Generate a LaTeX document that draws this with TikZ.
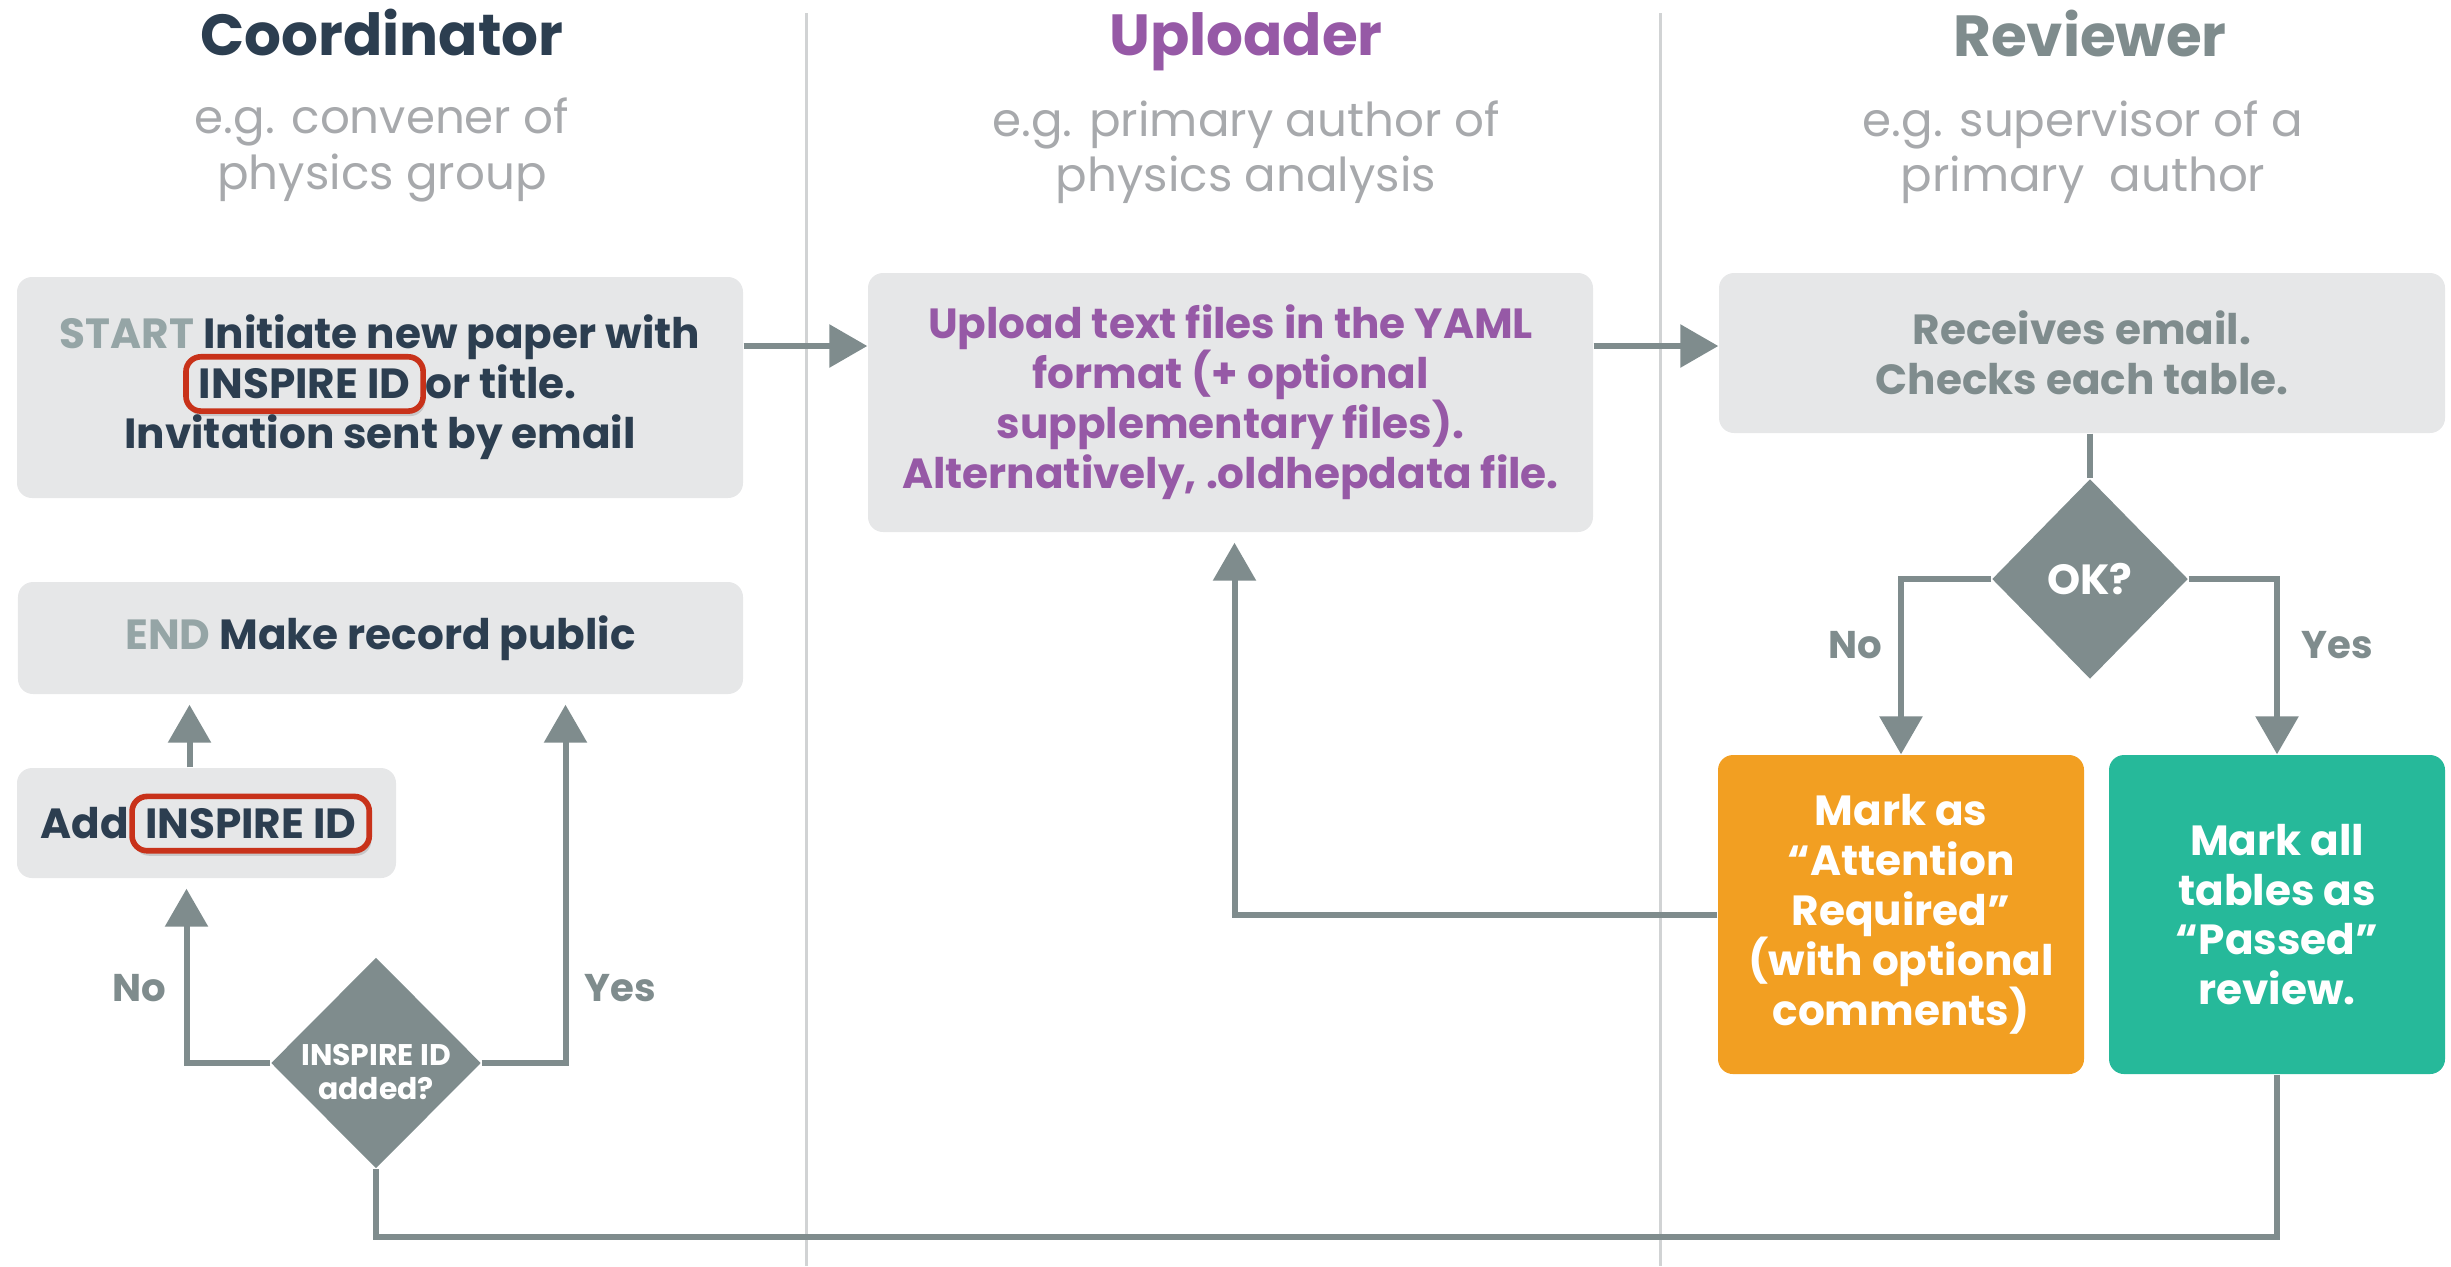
\documentclass[tikz,border=0pt]{standalone}
\usepackage{fontspec}
\setmainfont{Poppins}
\usetikzlibrary{arrows.meta,shapes.geometric,shadows}

\definecolor{navy}{HTML}{2C3E50}
\definecolor{plum}{HTML}{9659A6}
\definecolor{slate}{HTML}{7F8C8D}
\definecolor{ash}{HTML}{95A5A6}
\definecolor{subgray}{HTML}{A7A9AC}
\definecolor{boxgray}{HTML}{E6E7E8}
\definecolor{rulegray}{HTML}{D1D3D4}
\definecolor{idred}{HTML}{C8321A}
\definecolor{attnorange}{HTML}{F29F22}
\definecolor{passgreen}{HTML}{26B99A}

\newcommand{\idmark}[1]{\smash{\tikz[baseline=(m.base)]\node[idbox](m){#1};}}

\begin{document}
\begin{tikzpicture}[
  title/.style={font=\fontsize{16.5}{20}\selectfont\bfseries, anchor=base},
  sub/.style={font=\fontsize{13.3}{15.8}\selectfont, text=subgray, align=center},
  box/.style={fill=boxgray, rounded corners=0.15cm, align=center, inner sep=0pt,
    font=\fontsize{12}{14.2}\selectfont\bfseries},
  idbox/.style={draw=idred, line width=1.6pt, rounded corners=0.15cm, fill=boxgray,
    inner xsep=0.13cm, inner ysep=0.12cm, minimum width=0pt, minimum height=0pt,
    drop shadow={opacity=0.3, shadow xshift=0.02cm, shadow yshift=-0.05cm}},
  ask/.style={diamond, fill=slate, inner sep=0pt, text=white, align=center},
  arr/.style={slate, line width=0.06cm, -{Triangle[length=0.38cm,width=0.42cm]}},
  gap/.style={shorten >=0.1cm},
  wire/.style={slate, line width=0.06cm},
  lbl/.style={text=slate, font=\fontsize{11}{13}\selectfont\bfseries},
  divider/.style={rulegray, line width=0.03cm},
]
\useasboundingbox (0,0) rectangle (24.51,-12.66);
%\draw[gray, help lines] (0,0) grid (24,-12);

% lanes
\draw[divider] (8.06,-0.13) -- (8.06,-12.66);
\draw[divider] (16.60,-0.13) -- (16.60,-12.66);

\node[title, text=navy] (coordt) at (3.82,-0.55) {Coordinator};
\node[title, text=plum] (uplt) at (12.46,-0.55) {Uploader};
\node[title, text=slate] (revt) at (20.90,-0.56) {Reviewer};
\node[sub] (coords) at (3.82,-1.50) {e.g. convener of\\physics group};
\node[sub] (upls) at (12.46,-1.52) {e.g. primary author of\\physics analysis};
\node[sub] (revs) at (20.83,-1.52) {e.g. supervisor of a\\primary\ \ author};

% steps
\node[box, text=navy, minimum width=7.26cm, minimum height=2.21cm] (start) at (3.80,-3.875)
  {\textcolor{ash}{START} Initiate new paper with\\\idmark{INSPIRE ID}or title.\\Invitation sent by email};
\node[box, text=plum, minimum width=7.25cm, minimum height=2.59cm] (upload) at (12.305,-4.025)
  {Upload text files in the YAML\\format (+ optional\\supplementary files).\\Alternatively, .oldhepdata file.};
\node[box, text=slate, minimum width=7.26cm, minimum height=1.60cm] (review) at (20.82,-3.53)
  {Receives email.\\Checks each table.};
\node[box, text=navy, minimum width=7.25cm, minimum height=1.12cm] (finish) at (3.805,-6.38)
  {\textcolor{ash}{END} Make record public};
\node[box, text=navy, minimum width=3.79cm, minimum height=1.10cm] (addid) at (2.065,-8.23)
  {Add\idmark{INSPIRE ID}};
\node[box, fill=attnorange, text=white, minimum width=3.66cm, minimum height=3.19cm] (attn) at (19.01,-9.145)
  {Mark as\\“Attention\\Required”\\(with optional\\comments)};
\node[box, fill=passgreen, text=white, minimum width=3.36cm, minimum height=3.19cm] (passed) at (22.77,-9.145)
  {Mark all\\tables as\\“Passed”\\review.};

% decisions
\node[ask, minimum width=1.96cm, minimum height=2.0cm, font=\fontsize{12}{14}\selectfont\bfseries] (ok) at (20.90,-5.79) {OK?};
\node[ask, minimum width=2.10cm, minimum height=2.11cm,
  label={[text=white, align=center, yshift=-0.09cm, font=\fontsize{8.5}{9.7}\selectfont\bfseries]center:{INSPIRE ID\\added?}}] (added) at (3.76,-10.63) {};

\node[lbl] (no1) at (18.55,-6.45) {No};
\node[lbl] (yes1) at (23.37,-6.45) {Yes};
\node[lbl] (no2) at (1.39,-9.88) {No};
\node[lbl] (yes2) at (6.20,-9.88) {Yes};

% flow
\coordinate (flow) at (0,-3.46);
\draw[arr] (start.east |- flow) -- (upload.west |- flow);
\draw[arr] (upload.east |- flow) -- (review.west |- flow);
\draw[wire] (review.south -| ok.north) -- (ok.north);
\draw[arr] (ok.west) -| (attn.north);
\draw[arr] (ok.east) -| (passed.north);
\draw[arr, gap] (attn.west) -| ([xshift=0.04cm]upload.south);
\draw[wire] (passed.south) -- ++(0,-1.62) -| (added.south);
\draw[arr, gap] (added.west) -| ([xshift=-0.2cm]addid.south);
\draw[arr, gap] (added.east) -| ([xshift=1.85cm]finish.south);
\draw[arr, gap] ([xshift=-0.17cm]addid.north) -- ([xshift=-0.17cm]addid.north |- finish.south);
\end{tikzpicture}
\end{document}
